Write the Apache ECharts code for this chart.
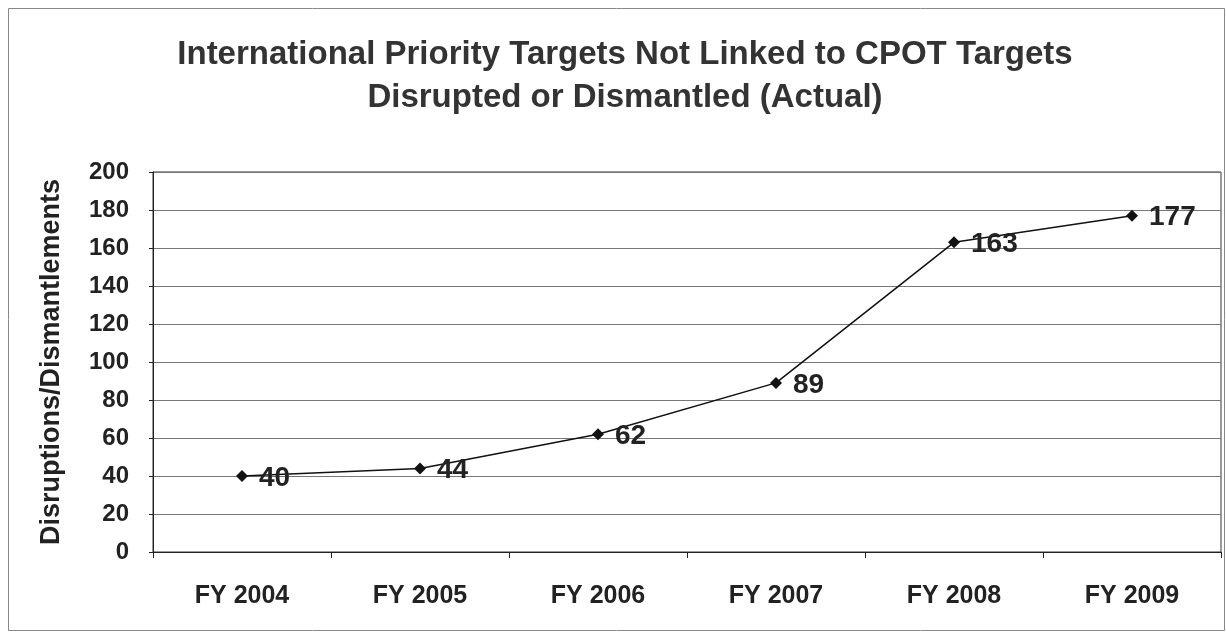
<!DOCTYPE html>
<html>
<head>
<meta charset="utf-8">
<script src="https://cdn.jsdelivr.net/npm/echarts@6/dist/echarts.min.js"></script>
<style>html,body{margin:0;padding:0;background:#fff}#c{width:1226px;height:634px}</style>
</head>
<body>
<div id="c"></div>
<script>
const categories = ['FY 2004', 'FY 2005', 'FY 2006', 'FY 2007', 'FY 2008', 'FY 2009'];
const values = [40, 44, 62, 89, 163, 177];
const titleLines = ['International Priority Targets Not Linked to CPOT Targets', 'Disrupted or Dismantled (Actual)'];
const yAxisName = 'Disruptions/Dismantlements';

const chart = echarts.init(document.getElementById('c'), null, {renderer: 'canvas'});
const font = 'Liberation Sans, Arial, sans-serif';
chart.setOption({
  animation: false,
  backgroundColor: '#fff',
  graphic: [{
    type: 'rect', shape: {x: 8.5, y: 8.5, width: 1216, height: 622},
    style: {fill: 'none', stroke: '#888', lineWidth: 1}, z: -1
  }],
  title: {
    text: titleLines.join('\n'),
    left: 620, textAlign: 'center', top: 28,
    textStyle: {fontFamily: font, fontSize: 33, fontWeight: 'bold', color: '#333', lineHeight: 43}
  },
  grid: {left: 153, right: 5, top: 172, bottom: 82, show: true, borderColor: '#333', borderWidth: 1, backgroundColor: 'transparent'},
  xAxis: {
    type: 'category', data: categories, boundaryGap: true,
    axisLine: {lineStyle: {color: '#222', width: 1}},
    axisTick: {show: true, length: 6, lineStyle: {color: '#222'}},
    axisLabel: {fontFamily: font, fontSize: 25, fontWeight: 'bold', color: '#222', margin: 32}
  },
  yAxis: {
    type: 'value', min: 0, max: 200, interval: 20,
    name: yAxisName, nameLocation: 'middle', nameGap: 88, nameRotate: 90,
    nameTextStyle: {fontFamily: font, fontSize: 27, fontWeight: 'bold', color: '#222'},
    axisLine: {show: true, lineStyle: {color: '#222', width: 1}},
    axisTick: {show: true, length: 4, inside: false, lineStyle: {color: '#222'}},
    axisLabel: {fontFamily: font, fontSize: 24, fontWeight: 'bold', color: '#222', margin: 24},
    splitLine: {show: true, lineStyle: {color: '#777', width: 1}}
  },
  series: [{
    type: 'line', data: values,
    symbol: 'diamond', symbolSize: 12,
    lineStyle: {color: '#111', width: 1.5},
    itemStyle: {color: '#111'},
    label: {show: true, position: 'right', distance: 11, offset: [0, 2], fontFamily: font, fontSize: 28, fontWeight: 'bold', color: '#222'}
  }]
});
</script>
</body>
</html>
